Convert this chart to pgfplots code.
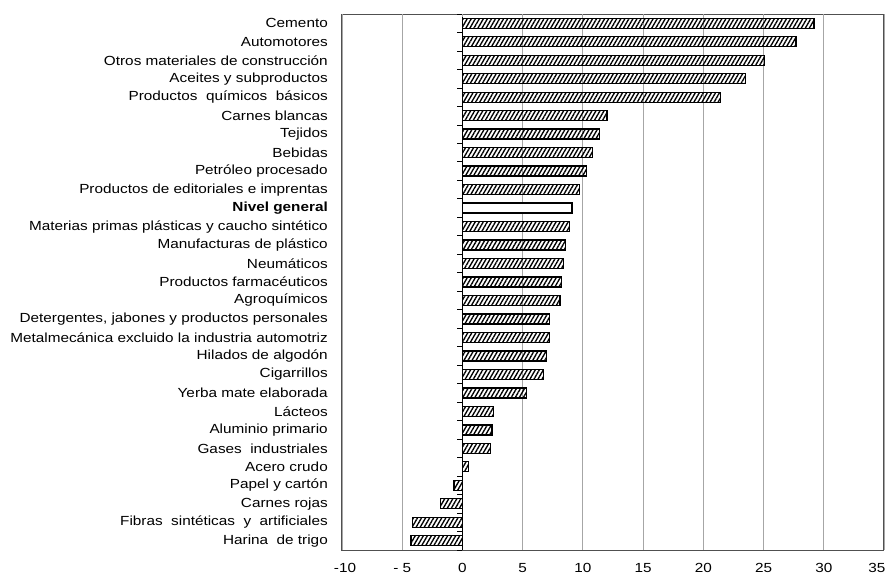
\documentclass[border=0pt]{standalone}
\usepackage{fontspec}
\setmainfont{Liberation Sans}[FakeStretch=1.16]
\usepackage{pgfplots}
\pgfplotsset{compat=1.18}
\usetikzlibrary{patterns.meta}
\definecolor{gridgray}{HTML}{A6A6A6}
\definecolor{boxgray}{HTML}{505050}

\begin{document}
\begin{tikzpicture}
\begin{axis}[
    name=main,
    scale only axis,
    width=542bp, height=536bp,
    xmin=-10, xmax=35,
    ymin=-0.5, ymax=28.5,
    y dir=reverse,
    xbar, bar shift=0pt, bar width=10bp,
    xtick={-10,-5,0,5,10,15,20,25,30,35},
    xticklabels={\hspace*{6bp}-10,- 5,0,5,10,15,20,25,30,35\hspace*{14bp}},
    xtick pos=bottom,
    major tick length=0pt,
    xmajorgrids=true,
    grid style={gridgray, line width=0.8bp},
    axis line style={boxgray, line width=1bp},
    ytick={0,...,28},
    yticklabels={Cemento, Automotores, Otros materiales de construcción,
        Aceites y subproductos, Productos\ \ químicos\ \ básicos, Carnes blancas,
        Tejidos, Bebidas, Petróleo procesado, Productos de editoriales e imprentas,
        \textbf{Nivel general}, Materias primas plásticas y caucho sintético,
        Manufacturas de plástico, Neumáticos, Productos farmacéuticos, Agroquímicos,
        {Detergentes, jabones y productos personales},
        Metalmecánica excluido la industria automotriz, Hilados de algodón,
        Cigarrillos, Yerba mate elaborada, Lácteos, Aluminio primario,
        Gases\ \ industriales, Acero crudo, Papel y cartón, Carnes rojas,
        Fibras\ \ sintéticas\ \ y\ \ artificiales, Harina\ \ de trigo},
    ytick pos=left,
    yticklabel style={inner sep=0pt, xshift=-14bp},
    xticklabel style={yshift=-10bp},
    tick label style={font=\fontsize{13.2bp}{15bp}\selectfont},
]
\addplot[draw=black, line width=1.3bp,
    pattern={Lines[angle=60, distance=3.5bp, line width=1.35bp]}]
    coordinates {
    (29.2,0) (27.7,1) (25.1,2) (23.5,3) (21.4,4) (12.0,5) (11.4,6) (10.8,7)
    (10.3,8) (9.7,9) (8.9,11) (8.55,12) (8.4,13) (8.2,14) (8.1,15) (7.2,16)
    (7.2,17) (7.0,18) (6.75,19) (5.3,20) (2.55,21) (2.45,22) (2.35,23) (0.5,24)
    (-0.7,25) (-1.85,26) (-4.13,27) (-4.26,28)
    };
\addplot[draw=black, line width=1.3bp, fill=white]
    coordinates {(9.1,10)};
\draw[black, line width=1.2bp] (axis cs:0,-0.5) -- (axis cs:0,28.5);
\pgfplotsinvokeforeach{-0.5,0.5,...,28.5}{
    \draw[black, line width=0.8bp] ([xshift=-5bp]axis cs:0,#1) -- (axis cs:0,#1);
}
% top axis: crossing ticks and labels cut by the page edge
\pgfplotsinvokeforeach{-10,-5,...,35}{
    \draw[gridgray, line width=0.8bp]
        ([yshift=-3bp]axis cs:#1,-0.5) -- ([yshift=3bp]axis cs:#1,-0.5);
}
\pgfplotsinvokeforeach{-10,0,5,10,15,20,25,30,35}{
    \node[anchor=base, inner sep=0pt, font=\fontsize{13.2bp}{15bp}\selectfont]
        at ([yshift=7bp]axis cs:#1,-0.5) {#1};
}
\node[anchor=base, inner sep=0pt, font=\fontsize{13.2bp}{15bp}\selectfont]
    at ([yshift=7bp]axis cs:-5,-0.5) {- 5};
\end{axis}
\pgfresetboundingbox
\path ([xshift=-342bp,yshift=14bp]main.north west)
    rectangle ([xshift=6bp,yshift=-26bp]main.south east);
\end{tikzpicture}
\end{document}
